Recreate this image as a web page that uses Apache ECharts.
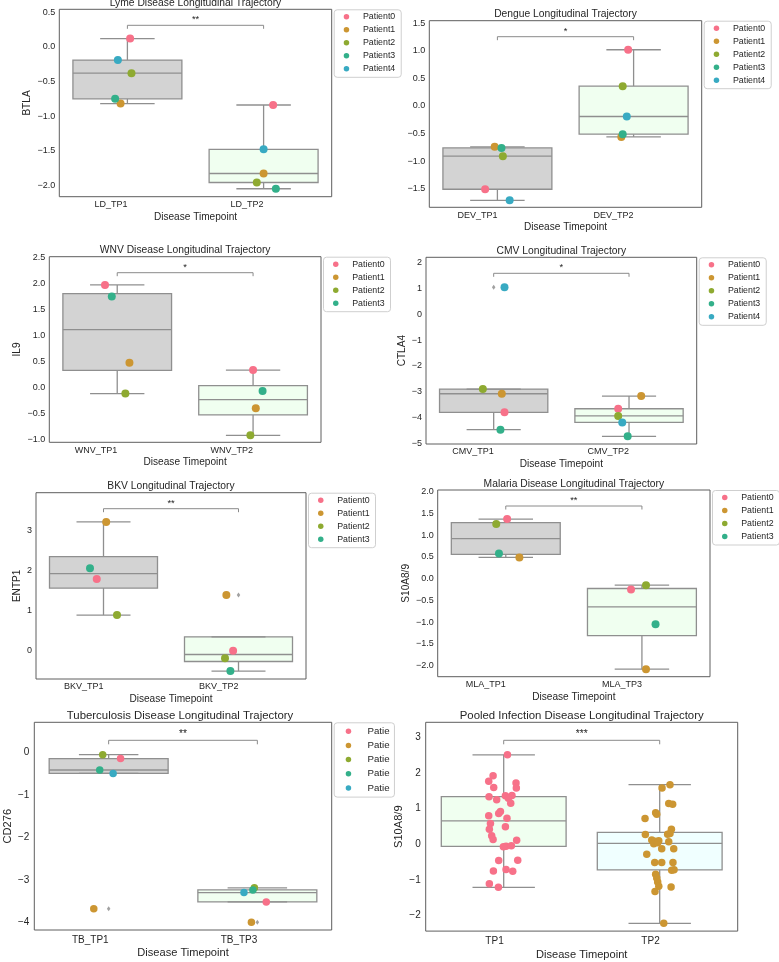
<!DOCTYPE html>
<html><head><meta charset="utf-8">
<script src="https://cdn.jsdelivr.net/npm/echarts@6/dist/echarts.min.js"></script>
<style>html,body{margin:0;padding:0;background:#fff}#c{width:779px;height:962px}</style>
</head><body><div id="c"></div>
<script>
// ---------------- DATA ----------------
const PATIENTS = ['Patient0', 'Patient1', 'Patient2', 'Patient3', 'Patient4'];
const AXIS_X_NAME = 'Disease Timepoint';

// Lyme (BTLA)
const lymeTitle = 'Lyme Disease Longitudinal Trajectory';
const lymeCategories = ['LD_TP1', 'LD_TP2'];
const lymeTP1 = [0.12, -0.82, -0.38, -0.75, -0.19];
const lymeTP2 = [-0.84, -1.83, -1.96, -2.05, -1.48];
const lymeJitterTP1 = [0.02, -0.05, 0.03, -0.09, -0.07];
const lymeJitterTP2 = [0.07, 0.0, -0.05, 0.09, 0.0];
const lymeSignificance = '**';

// Dengue
const dengueTitle = 'Dengue Longitudinal Trajectory';
const dengueCategories = ['DEV_TP1', 'DEV_TP2'];
const dengueTP1 = [-1.51, -0.74, -0.91, -0.76, -1.71];
const dengueTP2 = [1.02, -0.56, 0.36, -0.51, -0.19];
const dengueJitterTP1 = [-0.09, -0.02, 0.04, 0.03, 0.09];
const dengueJitterTP2 = [-0.04, -0.09, -0.08, -0.08, -0.05];
const dengueSignificance = '*';

// WNV (IL9)
const wnvTitle = 'WNV Disease Longitudinal Trajectory';
const wnvCategories = ['WNV_TP1', 'WNV_TP2'];
const wnvTP1 = [1.97, 0.48, -0.11, 1.75];
const wnvTP2 = [0.34, -0.39, -0.91, -0.06];
const wnvJitterTP1 = [-0.09, 0.09, 0.06, -0.04];
const wnvJitterTP2 = [0.0, 0.02, -0.02, 0.07];
const wnvSignificance = '*';

// CMV (CTLA4)
const cmvTitle = 'CMV Longitudinal Trajectory';
const cmvCategories = ['CMV_TP1', 'CMV_TP2'];
const cmvTP1 = [-3.8, -3.08, -2.9, -4.47, 1.05];
const cmvTP2 = [-3.66, -3.17, -3.94, -4.73, -4.19];
const cmvJitterTP1 = [0.08, 0.06, -0.08, 0.05, 0.08];
const cmvJitterTP2 = [-0.08, 0.09, -0.08, -0.01, -0.05];
const cmvSignificance = '*';

// BKV (ENTP1)
const bkvTitle = 'BKV Longitudinal Trajectory';
const bkvCategories = ['BKV_TP1', 'BKV_TP2'];
const bkvTP1 = [1.79, 3.22, 0.89, 2.06];
const bkvTP2 = [0.0, 1.39, -0.19, -0.51];
const bkvJitterTP1 = [-0.05, 0.02, 0.1, -0.1];
const bkvJitterTP2 = [-0.04, -0.09, -0.1, -0.06];
const bkvSignificance = '**';

// Malaria (S10A8/9)
const malariaTitle = 'Malaria Disease Longitudinal Trajectory';
const malariaCategories = ['MLA_TP1', 'MLA_TP3'];
const malariaTP1 = [1.37, 0.49, 1.26, 0.58];
const malariaTP2 = [-0.25, -2.08, -0.15, -1.05];
const malariaJitterTP1 = [0.01, 0.1, -0.07, -0.05];
const malariaJitterTP2 = [-0.08, 0.03, 0.03, 0.1];
const malariaSignificance = '**';

// Tuberculosis (CD276)
const tbTitle = 'Tuberculosis Disease Longitudinal Trajectory';
const tbCategories = ['TB_TP1', 'TB_TP3'];
const tbTP1 = [-0.14, -3.67, -0.05, -0.41, -0.49];
const tbTP2 = [-3.51, -3.99, -3.18, -3.23, -3.29];
const tbJitterTP1 = [0.08, -0.1, -0.04, -0.06, 0.03];
const tbJitterTP2 = [0.06, -0.04, -0.02, -0.03, -0.09];
const tbSignificance = '**';

// Pooled (S10A8/9)
const pooledTitle = 'Pooled Infection Disease Longitudinal Trajectory';
const pooledCategories = ['TP1', 'TP2'];
const pooledTP1 = [2.51, 1.92, 1.77, 1.59, 1.72, 1.58, 1.33, 1.25, 1.36, 1.37, 1.29, 1.15, 0.92, 0.86, 0.80, 0.73,
  0.58, 0.49, 0.42, 0.24, 0.13, 0.11, -0.07, -0.06, -0.04, -0.46, -0.45, -0.75, -0.71, -0.76, -1.11, -1.21];
const pooledJitterTP1 = [0.024, -0.068, -0.096, -0.064, 0.079, 0.081, -0.094, -0.045, 0.011, 0.053, 0.03, 0.045, -0.021, -0.032, -0.096, 0.021,
  -0.085, 0.011, -0.092, -0.077, -0.068, 0.083, -0.002, 0.015, 0.049, -0.032, 0.09, -0.066, 0.015, 0.058, -0.092, -0.034];
const pooledTP2 = [1.67, 1.58, 1.14, 1.12, 0.88, 0.84, 0.72, 0.42, 0.30, 0.28, 0.27, 0.12, 0.08, 0.10, 0.01, 0.04,
  0.07, -0.13, -0.13, -0.28, -0.51, -0.51, -0.51, -0.72, -0.73, -0.84, -0.95, -1.06, -1.18, -1.20, -1.33, -2.22];
const pooledJitterTP2 = [0.066, 0.015, 0.058, 0.083, -0.026, -0.019, -0.094, 0.075, 0.066, 0.051, -0.092, -0.051, -0.03, -0.006, -0.038, -0.013,
  0.058, 0.013, 0.09, -0.083, -0.032, 0.013, 0.085, 0.092, 0.077, -0.026, -0.019, -0.013, -0.006, 0.073, -0.03, 0.026];
const pooledSignificance = '***';

// ---------------- STYLE / LAYOUT ----------------
const FONT = '"Liberation Sans", Arial, sans-serif';
const TXT = '#262626';
const PATIENT_COLORS = ['#f77189', '#cc9632', '#8eaa31', '#33b08a', '#38aac2'];
const BOX_LINE = '#8f8f8f';
const FRAME = '#5e5e5e';

const SMALL = {title: 10.3, tick: 9, tickLH: 11, label: 10.1, labelLH: 12, legend: 8.8, legendLH: 13,
  xMargin: 2.5, xNameGap: 12, yMargin: 4, titleOff: 6.3, brOff: 16, brTick: 3.5, star: 9.3, dot: 8,
  legendItemW: 23, legendPad: [0.5, 6, 2, 9.5]};
const BIG = {title: 11.4, tick: 10, tickLH: 12, label: 11.1, labelLH: 13, legend: 9.7, legendLH: 14.2,
  xMargin: 4, xNameGap: 13.8, yMargin: 5, titleOff: 6.6, brOff: 18, brTick: 4, star: 10.3, dot: 7.5,
  legendItemW: 28, legendPad: [1.3, 0, 2, 11.5]};

const GRAY_FILL = '#d3d3d3', HONEYDEW = '#f0fff0', AZURE = '#f0ffff';

const panels = [
  {title: lymeTitle, yName: 'BTLA', cats: lymeCategories, groups: [lymeTP1, lymeTP2], jitter: [lymeJitterTP1, lymeJitterTP2],
   sig: lymeSignificance, rect: [59.3, 9.3, 272.4, 187.4], y: [-2.165, 0.543, 0.5, 1], yNameGap: 22.3, fills: [GRAY_FILL, HONEYDEW], S: SMALL},
  {title: dengueTitle, yName: '', cats: dengueCategories, groups: [dengueTP1, dengueTP2], jitter: [dengueJitterTP1, dengueJitterTP2],
   sig: dengueSignificance, rect: [429.3, 20.7, 272.4, 186.6], y: [-1.837, 1.547, 0.5, 1], yNameGap: 22, fills: [GRAY_FILL, HONEYDEW], S: SMALL},
  {title: wnvTitle, yName: 'IL9', cats: wnvCategories, groups: [wnvTP1, wnvTP2], jitter: [wnvJitterTP1, wnvJitterTP2],
   sig: wnvSignificance, rect: [49.3, 256.7, 271.7, 185.6], y: [-1.044, 2.511, 0.5, 1], yNameGap: 22.6, fills: [GRAY_FILL, HONEYDEW], S: SMALL},
  {title: cmvTitle, yName: 'CTLA4', cats: cmvCategories, groups: [cmvTP1, cmvTP2], jitter: [cmvJitterTP1, cmvJitterTP2],
   sig: cmvSignificance, rect: [426, 257.3, 270.7, 186.7], y: [-5.027, 2.209, 1, 0], yNameGap: 14.3, fills: [GRAY_FILL, HONEYDEW], S: SMALL},
  {title: bkvTitle, yName: 'ENTP1', cats: bkvCategories, groups: [bkvTP1, bkvTP2], jitter: [bkvJitterTP1, bkvJitterTP2],
   sig: bkvSignificance, rect: [36, 492.7, 270, 186.3], y: [-0.708, 3.95, 1, 0], yNameGap: 9.3, fills: [GRAY_FILL, HONEYDEW], S: SMALL},
  {title: malariaTitle, yName: 'S10A8/9', cats: malariaCategories, groups: [malariaTP1, malariaTP2], jitter: [malariaJitterTP1, malariaJitterTP2],
   sig: malariaSignificance, rect: [437.7, 490, 272.3, 186.7], y: [-2.253, 2.039, 0.5, 1], yNameGap: 21.7, fills: [GRAY_FILL, HONEYDEW], S: SMALL},
  {title: tbTitle, yName: 'CD276', cats: tbCategories, groups: [tbTP1, tbTP2], jitter: [tbJitterTP1, tbJitterTP2],
   sig: tbSignificance, rect: [28.3, 722.3, 303.4, 207.7], y: [-4.171, 0.712, 1, 0], yNameGap: 17.8, fills: [GRAY_FILL, HONEYDEW], S: BIG,
   truncateLegend: 27},
  {title: pooledTitle, yName: 'S10A8/9', cats: pooledCategories, groups: [pooledTP1, pooledTP2], jitter: [pooledJitterTP1, pooledJitterTP2],
   sig: pooledSignificance, rect: [425.7, 722.3, 312, 213.7], y: [-2.439, 3.422, 1, 0], yNameGap: 16.5, fills: [HONEYDEW, AZURE], S: BIG,
   pooled: true, groupColors: [PATIENT_COLORS[0], PATIENT_COLORS[1]]}
];

// ---------------- HELPERS ----------------
function quantile(s, p) {
  const h = (s.length - 1) * p, lo = Math.floor(h), hi = Math.ceil(h);
  return s[lo] + (h - lo) * (s[hi] - s[lo]);
}
function boxStats(values) {
  const s = values.slice().sort((a, b) => a - b);
  const q1 = quantile(s, 0.25), med = quantile(s, 0.5), q3 = quantile(s, 0.75);
  const iqr = q3 - q1, lb = q1 - 1.5 * iqr, ub = q3 + 1.5 * iqr;
  const inside = s.filter(v => v >= lb && v <= ub);
  return {lo: Math.min(inside[0], q1), q1, med, q3, hi: Math.max(inside[inside.length - 1], q3),
    out: s.filter(v => v < lb || v > ub)};
}
function tickFormatter(step, dec) {
  return function (v) {
    const k = Math.round(v / step);
    if (Math.abs(v - k * step) > 1e-6) return '';
    let t = (k * step).toFixed(dec);
    if (/^-0(\.0+)?$/.test(t)) t = t.slice(1);
    return t.replace('-', '\u2212');
  };
}
function boxRenderer(fills) {
  return function (params, api) {
    const k = api.value(0);
    const band = api.size([1, 0])[0];
    const cx = api.coord([k, api.value(3)])[0];
    const yy = i => api.coord([k, api.value(i)])[1];
    const ylo = yy(1), yq1 = yy(2), ymed = yy(3), yq3 = yy(4), yhi = yy(5);
    const hw = band * 0.4, cw = band * 0.2;
    const st = {stroke: BOX_LINE, lineWidth: 1.3, fill: null};
    return {type: 'group', children: [
      {type: 'line', shape: {x1: cx, y1: yq3, x2: cx, y2: yhi}, style: st},
      {type: 'line', shape: {x1: cx, y1: yq1, x2: cx, y2: ylo}, style: st},
      {type: 'rect', shape: {x: cx - hw, y: yq3, width: 2 * hw, height: yq1 - yq3},
        style: {fill: fills[k], stroke: BOX_LINE, lineWidth: 1.3}},
      {type: 'line', shape: {x1: cx - hw, y1: ymed, x2: cx + hw, y2: ymed}, style: st},
      {type: 'line', shape: {x1: cx - cw, y1: yhi, x2: cx + cw, y2: yhi}, style: st},
      {type: 'line', shape: {x1: cx - cw, y1: ylo, x2: cx + cw, y2: ylo}, style: st}
    ]};
  };
}
function bracketRenderer(label, S, ymin) {
  return function (params, api) {
    const x0 = api.coord([api.value(0), ymin])[0];
    const x1 = api.coord([api.value(1), ymin])[0];
    const y = params.coordSys.y + S.brOff;
    return {type: 'group', children: [
      {type: 'polyline', shape: {points: [[x0, y + S.brTick], [x0, y], [x1, y], [x1, y + S.brTick]]},
        style: {stroke: '#8a8a8a', lineWidth: 1, fill: null}},
      {type: 'text', x: (x0 + x1) / 2, y: y - 1,
        style: {text: label, fill: TXT, font: S.star + 'px ' + FONT,
          textAlign: 'center', textVerticalAlign: 'bottom', align: 'center', verticalAlign: 'bottom'}}
    ]};
  };
}

// ---------------- OPTION ----------------
const option = {
  animation: false, backgroundColor: '#ffffff', textStyle: {fontFamily: FONT},
  grid: [], xAxis: [], yAxis: [], series: [], legend: [], graphic: []
};

panels.forEach((P, i) => {
  const S = P.S;
  const [gx, gy, gw, gh] = P.rect;
  const [ymin, ymax, step, dec] = P.y;
  option.grid.push({left: gx, top: gy, width: gw, height: gh, show: true, borderColor: FRAME, borderWidth: 1,
    backgroundColor: 'rgba(0,0,0,0)'});
  option.xAxis.push({type: 'category', gridIndex: i, data: P.cats, boundaryGap: true,
    axisLine: {show: false}, axisTick: {show: false}, splitLine: {show: false},
    axisLabel: {align: 'right', margin: S.xMargin, fontSize: S.tick, lineHeight: S.tickLH, color: TXT, fontFamily: FONT},
    name: AXIS_X_NAME, nameLocation: 'middle', nameGap: S.xNameGap,
    nameTextStyle: {fontSize: S.label, lineHeight: S.labelLH, color: TXT, fontFamily: FONT}});
  option.xAxis.push({type: 'value', gridIndex: i, min: -0.5, max: 1.5, show: false});
  option.yAxis.push({type: 'value', gridIndex: i, min: ymin, max: ymax, minInterval: step, maxInterval: step,
    axisLine: {show: false}, axisTick: {show: false}, splitLine: {show: false},
    axisLabel: {margin: S.yMargin, fontSize: S.tick, lineHeight: S.tickLH, color: TXT, fontFamily: FONT,
      formatter: tickFormatter(step, dec)},
    name: P.yName, nameLocation: 'middle', nameGap: P.yNameGap,
    nameTextStyle: {fontSize: S.label, lineHeight: S.labelLH, color: TXT, fontFamily: FONT}});

  const stats = P.groups.map(boxStats);
  option.series.push({type: 'custom', name: 'box' + i, xAxisIndex: 2 * i, yAxisIndex: i, z: 1, silent: true,
    renderItem: boxRenderer(P.fills), encode: {x: 0, y: [1, 2, 3, 4, 5]},
    data: stats.map((s, k) => [k, s.lo, s.q1, s.med, s.q3, s.hi])});
  const outliers = [];
  stats.forEach((s, k) => s.out.forEach(v => outliers.push([k, v])));
  if (outliers.length) {
    option.series.push({type: 'scatter', name: 'outliers' + i, xAxisIndex: 2 * i + 1, yAxisIndex: i, z: 2, silent: true,
      symbol: 'diamond', symbolSize: [3.5, 5], itemStyle: {color: '#8a8a8a'}, data: outliers});
  }

  if (P.pooled) {
    P.groups.forEach((vals, g) => {
      option.series.push({type: 'scatter', name: P.cats[g], xAxisIndex: 2 * i + 1, yAxisIndex: i, z: 3, silent: true,
        symbolSize: S.dot, itemStyle: {color: P.groupColors[g], opacity: 1},
        data: vals.map((v, j) => [g + P.jitter[g][j], v])});
    });
  } else {
    const n = P.groups[0].length;
    for (let p = 0; p < n; p++) {
      option.series.push({type: 'scatter', name: PATIENTS[p], xAxisIndex: 2 * i + 1, yAxisIndex: i, z: 3, silent: true,
        symbolSize: S.dot, itemStyle: {color: PATIENT_COLORS[p], opacity: 1},
        data: P.groups.map((vals, g) => [g + P.jitter[g][p], vals[p]])});
    }
    const ts = {fontSize: S.legend, lineHeight: S.legendLH, color: TXT, fontFamily: FONT};
    if (P.truncateLegend) { ts.width = P.truncateLegend; ts.overflow = 'truncate'; ts.ellipsis = ''; }
    option.legend.push({data: PATIENTS.slice(0, n), orient: 'vertical', left: gx + gw + 2.5, top: gy + 0.5,
      icon: 'circle', itemWidth: S.legendItemW, itemHeight: 5.5, itemGap: 0, padding: S.legendPad,
      borderColor: '#cfcfcf', borderWidth: 1, borderRadius: 3, backgroundColor: '#ffffff',
      selectedMode: false, textStyle: ts});
  }

  option.series.push({type: 'custom', name: 'sig' + i, xAxisIndex: 2 * i, yAxisIndex: i, z: 4, silent: true,
    renderItem: bracketRenderer(P.sig, S, ymin), encode: {x: 0, y: 1}, clip: false, data: [[0, 1]]});

  option.graphic.push({type: 'text', x: gx + gw / 2, y: gy - S.titleOff, silent: true,
    style: {text: P.title, fill: TXT, font: S.title + 'px ' + FONT,
      textAlign: 'center', textVerticalAlign: 'middle', align: 'center', verticalAlign: 'middle'}});
});

const chart = echarts.init(document.getElementById('c'), null, {renderer: 'canvas'});
chart.setOption(option);
</script></body></html>
